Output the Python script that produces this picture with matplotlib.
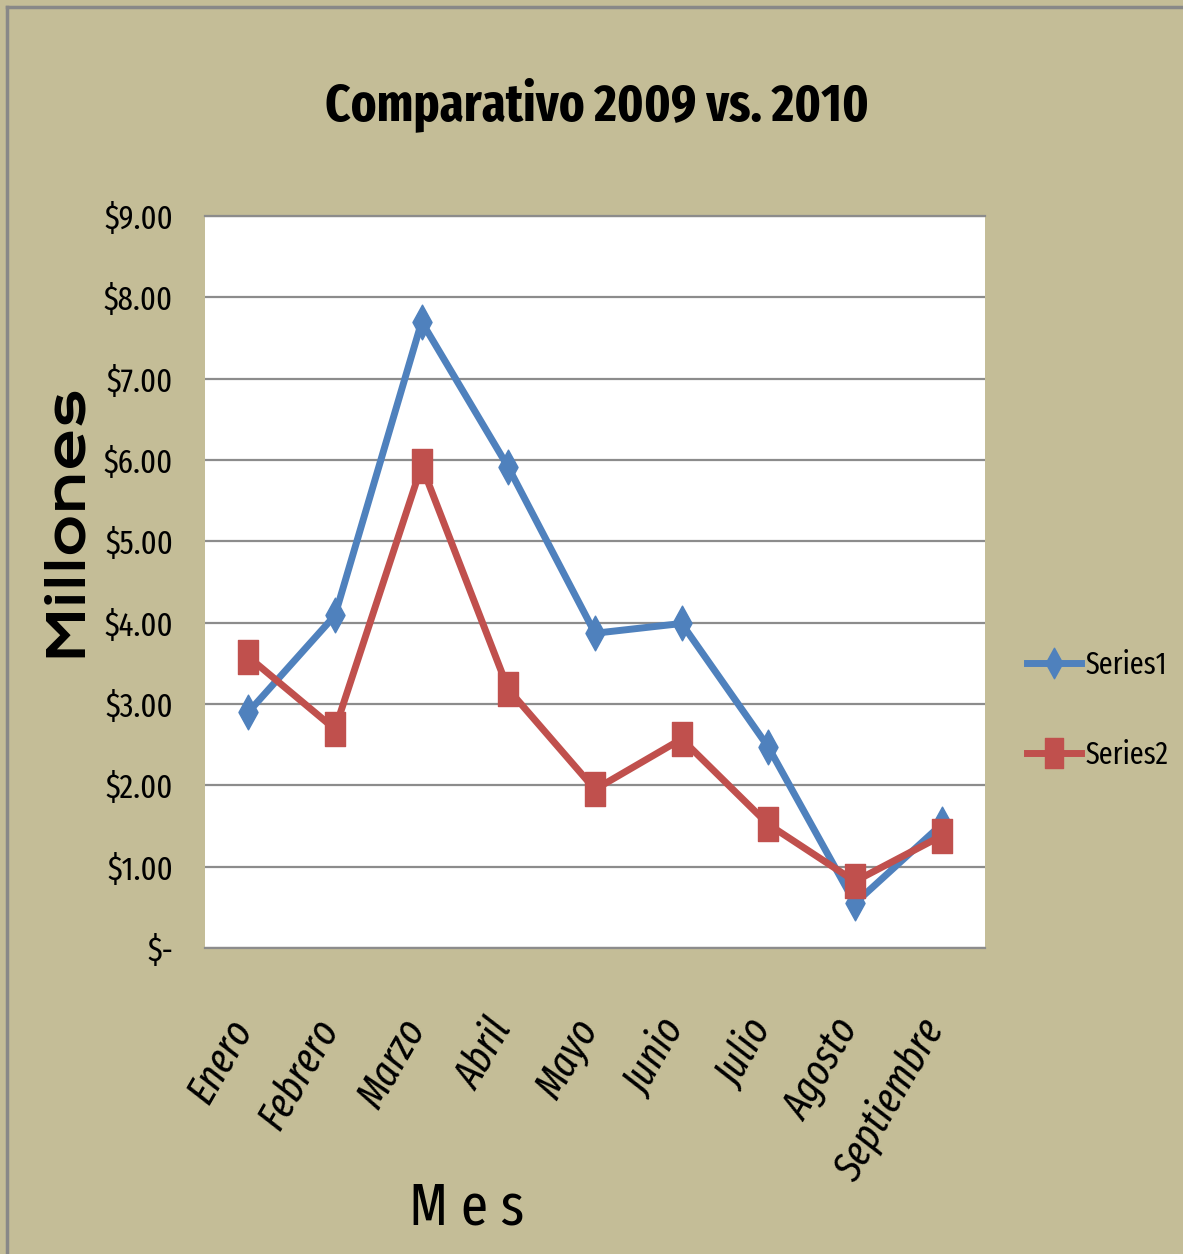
import matplotlib.pyplot as plt
import matplotlib.ticker as mticker
import matplotlib.transforms as mtransforms
from matplotlib.path import Path
from matplotlib.lines import Line2D

meses = ['Enero', 'Febrero', 'Marzo', 'Abril', 'Mayo', 'Junio', 'Julio', 'Agosto', 'Septiembre']
series1 = [2.90, 4.09, 7.70, 5.91, 3.87, 3.99, 2.47, 0.55, 1.52]
series2 = [3.58, 2.69, 5.93, 3.18, 1.95, 2.57, 1.52, 0.82, 1.38]
yticks = list(range(0, 10))

FONDO = '#C4BD97'
AZUL = '#4F81BD'
ROJO = '#C0504D'
GRIS = '#8C8C8C'
COND = 'Fira Sans Extra Condensed'

# tall diamond and tall square markers
diamante = Path([(0, 1), (0.55, 0), (0, -1), (-0.55, 0), (0, 1)],
                [Path.MOVETO, Path.LINETO, Path.LINETO, Path.LINETO, Path.CLOSEPOLY])
cuadro = Path([(-0.6, -1), (0.6, -1), (0.6, 1), (-0.6, 1), (-0.6, -1)],
              [Path.MOVETO, Path.LINETO, Path.LINETO, Path.LINETO, Path.CLOSEPOLY])


def moneda(v, pos):
    if v == 0:
        return '$-'
    return '${:.2f}'.format(v)


fig = plt.figure(figsize=(11.83, 12.54), dpi=100, facecolor=FONDO)
ax = fig.add_axes([205 / 1183, 1 - 948 / 1254, 780 / 1183, 732 / 1254])
ax.set_facecolor('white')

x = range(len(meses))
ax.plot(x, series1, color=AZUL, lw=5, marker=diamante, ms=25, label='Series1', zorder=3)
ax.plot(x, series2, color=ROJO, lw=5, marker=cuadro, ms=25, label='Series2', zorder=4)

ax.set_xlim(-0.5, len(meses) - 0.5)
ax.set_ylim(0, 9)
ax.set_yticks(yticks)
ax.yaxis.set_major_formatter(mticker.FuncFormatter(moneda))
ax.grid(axis='y', color=GRIS, lw=1.6)
ax.set_axisbelow(True)

for lado in ['left', 'right']:
    ax.spines[lado].set_visible(False)
for lado in ['top', 'bottom']:
    ax.spines[lado].set_color(GRIS)
    ax.spines[lado].set_linewidth(1.6)

ax.tick_params(axis='y', length=0, pad=23, labelsize=24)
ax.tick_params(axis='x', length=0, pad=46)
for t in ax.get_yticklabels():
    t.set_fontfamily(COND)

ax.set_xticks(list(x))
ax.set_xticklabels(meses, rotation=60, ha='right', fontsize=30,
                   fontfamily=COND, style='italic')
desplaza = mtransforms.ScaledTranslation(0.12, 0, fig.dpi_scale_trans)
for t in ax.get_xticklabels():
    t.set_transform(t.get_transform() + desplaza)

fig.text(597 / 1183, 1 - 105 / 1254, 'Comparativo 2009 vs. 2010', ha='center', va='center',
         fontsize=38, fontweight='bold', fontfamily=COND)
fig.text(467 / 1183, 1 - 1208 / 1254, 'M e s', ha='center', va='center',
         fontsize=43, fontfamily=COND)
fig.text(65 / 1183, 1 - 520 / 1254, 'Millones', ha='center', va='center', rotation=90,
         fontsize=37, fontweight='bold', family=['Krona One', 'DejaVu Sans'])

leg = ax.legend(loc='center left', bbox_to_anchor=(1012 / 1183, 1 - 710 / 1254),
                bbox_transform=fig.transFigure, frameon=False, prop={'family': COND, 'size': 22},
                handlelength=1.75, handletextpad=0.15, labelspacing=1.95, borderpad=0)
for h in leg.legend_handles:
    h.set_markersize(22)

# gray frame on the left and top edges
fig.add_artist(Line2D([7 / 1183, 7 / 1183], [0, 1 - 7 / 1254], color='#888888', lw=2.5))
fig.add_artist(Line2D([7 / 1183, 1], [1 - 7 / 1254, 1 - 7 / 1254], color='#888888', lw=2.5))

fig.savefig('out.png', dpi=100, facecolor=FONDO)
